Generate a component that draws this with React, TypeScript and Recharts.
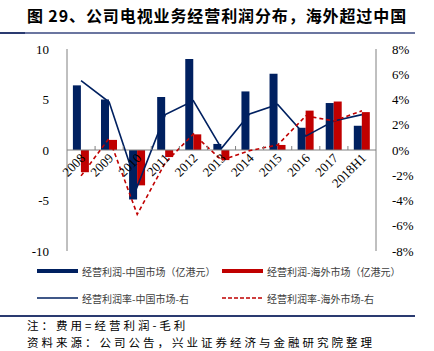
import {
  ComposedChart,
  Bar,
  Line,
  XAxis,
  YAxis,
  ReferenceLine,
} from "recharts";

const years = ["2008", "2009", "2010", "2011", "2012", "2013", "2014", "2015", "2016", "2017", "2018H1"];
const chinaProfit = [6.4, 5.0, -4.9, 5.25, 9.0, 0.6, 5.8, 7.55, 2.2, 4.65, 2.4];
const overseasProfit = [-2.2, 1.0, -3.5, -0.7, 1.55, -1.0, 0, 0.5, 3.9, 4.8, 3.75];
const chinaRate = [5.5, 3.8, -2.9, 2.8, 3.9, 0.13, 2.85, 3.6, 1.1, 2.3, 2.8];
const overseasRate = [-2.05, 0.93, -5.1, -1.0, 1.27, -0.8, -0.05, 0.4, 2.7, 2.3, 3.1];
const leftTicks = [-10, -5, 0, 5, 10];
const rightTicks = [-8, -6, -4, -2, 0, 2, 4, 6, 8];

const NAVY = "#002060";
const RED = "#C00000";
const AXIS = "#808080";
const SERIF = "'Liberation Serif', 'Times New Roman', serif";
const CJK = "'Noto Sans CJK SC', sans-serif";

const W = 434;
const H = 262;
const M = { top: 49, right: 0, bottom: 10, left: 27 };
const LEFT_W = 40;
const RIGHT_W = 58;
const plotTop = M.top;
const plotBottom = H - M.bottom - 1;
const zeroY = (plotTop + plotBottom) / 2;
const plotW = W - M.left - M.right - LEFT_W - RIGHT_W;
const band = plotW / years.length;

const data = years.map((y, i) => ({
  year: y,
  china: chinaProfit[i],
  overseas: overseasProfit[i],
  chinaRate: chinaRate[i],
  overseasRate: overseasRate[i],
}));

const YearTick = (props: any) => {
  const { x, payload, index } = props;
  const ax = x + 5;
  const ay = zeroY + 9;
  return (
    <g>
      {index > 0 && (
        <line x1={x - band / 2} x2={x - band / 2} y1={zeroY - 4} y2={zeroY} stroke={AXIS} />
      )}
      <text
        x={ax}
        y={ay}
        transform={`rotate(-45, ${ax}, ${ay})`}
        textAnchor="end"
        fontFamily={SERIF}
        fontSize={13}
        fill="#000"
      >
        {payload.value}
      </text>
    </g>
  );
};

const legendItems = [
  { name: "经营利润-中国市场（亿港元）", color: NAVY, width: 4, dash: "" },
  { name: "经营利润-海外市场（亿港元）", color: RED, width: 4, dash: "" },
  { name: "经营利润率-中国市场-右", color: NAVY, width: 1.5, dash: "" },
  { name: "经营利润率-海外市场-右", color: RED, width: 1.5, dash: "4 2" },
];

const notes = ["注：费用=经营利润-毛利", "资料来源：公司公告，兴业证券经济与金融研究院整理"];

const App = () => (
  <div
    style={{
      position: "absolute",
      left: 0,
      top: 0,
      width: W,
      height: 351,
      background: "#fff",
      overflow: "hidden",
    }}
  >
    <div
      style={{
        position: "absolute",
        top: 5,
        left: 0,
        width: 434,
        textAlign: "center",
        fontFamily: CJK,
        fontWeight: 700,
        fontSize: 16,
        letterSpacing: 0.9,
        lineHeight: "20px",
        color: "#000",
      }}
    >
      图 29、公司电视业务经营利润分布，海外超过中国
    </div>
    <div style={{ position: "absolute", top: 32, left: 0, width: 415, height: 1.5, background: "#6b76a0" }} />
    <div style={{ position: "absolute", top: 31.5, left: 0, width: 25, height: 2, background: "#2a3a70" }} />

    <div style={{ position: "absolute", top: 0, left: 0 }}>
      <ComposedChart
        width={W}
        height={H}
        data={data}
        margin={M}
        barCategoryGap="21%"
        barGap={0}
      >
        <XAxis
          dataKey="year"
          xAxisId="x"
          height={1}
          axisLine={false}
          tickLine={false}
          tick={<YearTick />}
          interval={0}
        />
        <YAxis
          yAxisId="left"
          width={LEFT_W}
          domain={[-10, 10]}
          ticks={leftTicks}
          stroke={AXIS}
          tickLine={false}
          tickMargin={12}
          tick={{ fill: "#000", fontFamily: SERIF, fontSize: 13 }}
        />
        <YAxis
          yAxisId="right"
          orientation="right"
          width={RIGHT_W}
          domain={[-8, 8]}
          ticks={rightTicks}
          stroke={AXIS}
          tickLine={false}
          tickMargin={10}
          tickFormatter={(v: number) => `${v}%`}
          tick={{ fill: "#000", fontFamily: SERIF, fontSize: 13 }}
        />
        <Bar xAxisId="x" yAxisId="left" dataKey="china" fill={NAVY} isAnimationActive={false} />
        <Bar xAxisId="x" yAxisId="left" dataKey="overseas" fill={RED} isAnimationActive={false} />
        <ReferenceLine xAxisId="x" yAxisId="left" y={0} stroke={AXIS} />
        <Line
          xAxisId="x"
          yAxisId="right"
          dataKey="chinaRate"
          stroke={NAVY}
          strokeWidth={1.6}
          dot={false}
          type="linear"
          isAnimationActive={false}
        />
        <Line
          xAxisId="x"
          yAxisId="right"
          dataKey="overseasRate"
          stroke={RED}
          strokeWidth={1.6}
          strokeDasharray="4 3"
          dot={false}
          type="linear"
          isAnimationActive={false}
        />
      </ComposedChart>
    </div>

    {legendItems.map((it, i) => (
      <div
        key={it.name}
        style={{
          position: "absolute",
          left: i % 2 === 0 ? 37 : 222,
          top: i < 2 ? 263 : 290,
          height: 16,
          display: "flex",
          alignItems: "center",
          fontFamily: CJK,
          fontSize: 10,
          color: "#404040",
          whiteSpace: "nowrap",
        }}
      >
        <svg width={41} height={6} style={{ marginRight: 4 }}>
          <line
            x1={0}
            x2={41}
            y1={3}
            y2={3}
            stroke={it.color}
            strokeWidth={it.width}
            strokeDasharray={it.dash || undefined}
          />
        </svg>
        {it.name}
      </div>
    ))}

    <div style={{ position: "absolute", top: 315, left: 0, width: 415, height: 1.5, background: "#2a3a70" }} />
    {notes.map((t, i) => (
      <div
        key={t}
        style={{
          position: "absolute",
          top: 317 + i * 17,
          left: 27,
          height: 17,
          fontFamily: CJK,
          fontSize: 11.5,
          letterSpacing: 3,
          lineHeight: "17px",
          color: "#000",
          whiteSpace: "nowrap",
        }}
      >
        {t}
      </div>
    ))}
  </div>
);

export default App;
